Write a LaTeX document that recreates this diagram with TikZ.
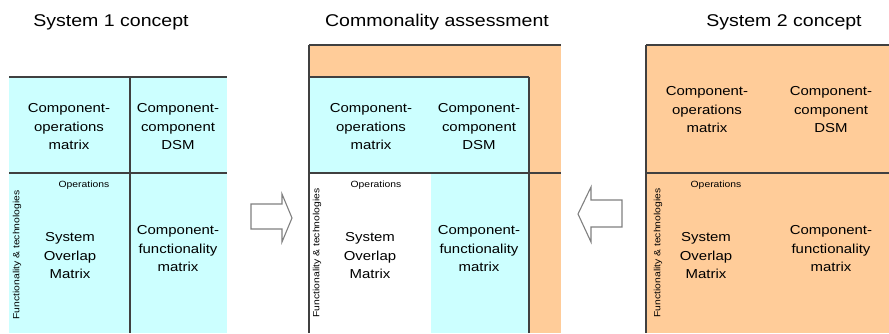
\documentclass[tikz,border=0pt]{standalone}
\usepackage{fontspec}
\setmainfont{Liberation Sans}[FakeStretch=1.15]
\definecolor{cyanfill}{HTML}{CCFFFF}
\definecolor{orangefill}{HTML}{FFCC99}
\definecolor{linegray}{HTML}{404040}
\definecolor{arrowgray}{HTML}{808080}
\tikzset{
  divline/.style={draw=linegray,line width=1.2pt},
  celltext/.style={align=center,inner sep=0pt,font=\fontsize{13}{18.5}\selectfont},
  titletext/.style={inner sep=0pt,font=\fontsize{17}{20}\selectfont},
  smalltext/.style={inner sep=0pt,font=\fontsize{9}{11}\selectfont},
  blockarrow/.style={draw=arrowgray,line width=1.1pt,fill=white,line join=miter},
}
\begin{document}
\begin{tikzpicture}[x=1pt,y=-1pt]
\useasboundingbox (0,0) rectangle (889,333);
\fill[white] (0,0) rectangle (889,333);

% titles
\node[titletext] (t1) at (111,22) {System 1 concept};
\node[titletext] (t2) at (437,22) {Commonality assessment};
\node[titletext] (t3) at (784,22) {System 2 concept};

% ---------- left panel (System 1) ----------
\fill[cyanfill] (9,77) rectangle (227,333);
\draw[divline] (9,77) -- (227,77);
\draw[divline] (9,173) -- (227,173);
\draw[divline] (130,77) -- (130,333);
\node[celltext] (l1) at (69,127) {Component-\\operations\\matrix};
\node[celltext] (l2) at (178,127) {Component-\\component\\DSM};
\node[celltext] (l3) at (70,256) {System\\Overlap\\Matrix};
\node[celltext] (l4) at (178,249) {Component-\\functionality\\matrix};
\node[smalltext] (l5) at (84,185) {Operations};
\node[smalltext,rotate=90] (l6) at (17,255) {Functionality \& technologies};

% ---------- middle panel (Commonality) ----------
\fill[orangefill] (309,45) rectangle (561,333);
\fill[cyanfill] (309,77) rectangle (529,173);
\fill[white] (309,173) rectangle (431,333);
\fill[cyanfill] (431,173) rectangle (529,333);
\draw[divline] (309,45) -- (561,45);
\draw[divline] (309,45) -- (309,333);
\draw[divline] (309,77) -- (529,77);
\draw[divline] (309,173) -- (561,173);
\draw[divline] (529,77) -- (529,333);
\node[celltext] (m1) at (371,127) {Component-\\operations\\matrix};
\node[celltext] (m2) at (479,127) {Component-\\component\\DSM};
\node[celltext] (m3) at (370,256) {System\\Overlap\\Matrix};
\node[celltext] (m4) at (479,249) {Component-\\functionality\\matrix};
\node[smalltext] (m5) at (376,185) {Operations};
\node[smalltext,rotate=90] (m6) at (317,253) {Functionality \& technologies};

% ---------- right panel (System 2) ----------
\fill[orangefill] (646,45) rectangle (889,333);
\draw[divline] (646,45) -- (889,45);
\draw[divline] (646,45) -- (646,333);
\draw[divline] (646,173) -- (889,173);
\node[celltext] (r1) at (707,110) {Component-\\operations\\matrix};
\node[celltext] (r2) at (831,110) {Component-\\component\\DSM};
\node[celltext] (r3) at (706,256) {System\\Overlap\\Matrix};
\node[celltext] (r4) at (831,249) {Component-\\functionality\\matrix};
\node[smalltext] (r5) at (716,185) {Operations};
\node[smalltext,rotate=90] (r6) at (658,253) {Functionality \& technologies};

% ---------- block arrows ----------
\draw[blockarrow] (251,204) -- (282,204) -- (282,194) -- (292,218) -- (282,242) -- (282,229) -- (251,229) -- cycle;
\draw[blockarrow] (622,200) -- (591,200) -- (591,187) -- (578,214) -- (591,242) -- (591,227) -- (622,227) -- cycle;
\end{tikzpicture}
\end{document}
